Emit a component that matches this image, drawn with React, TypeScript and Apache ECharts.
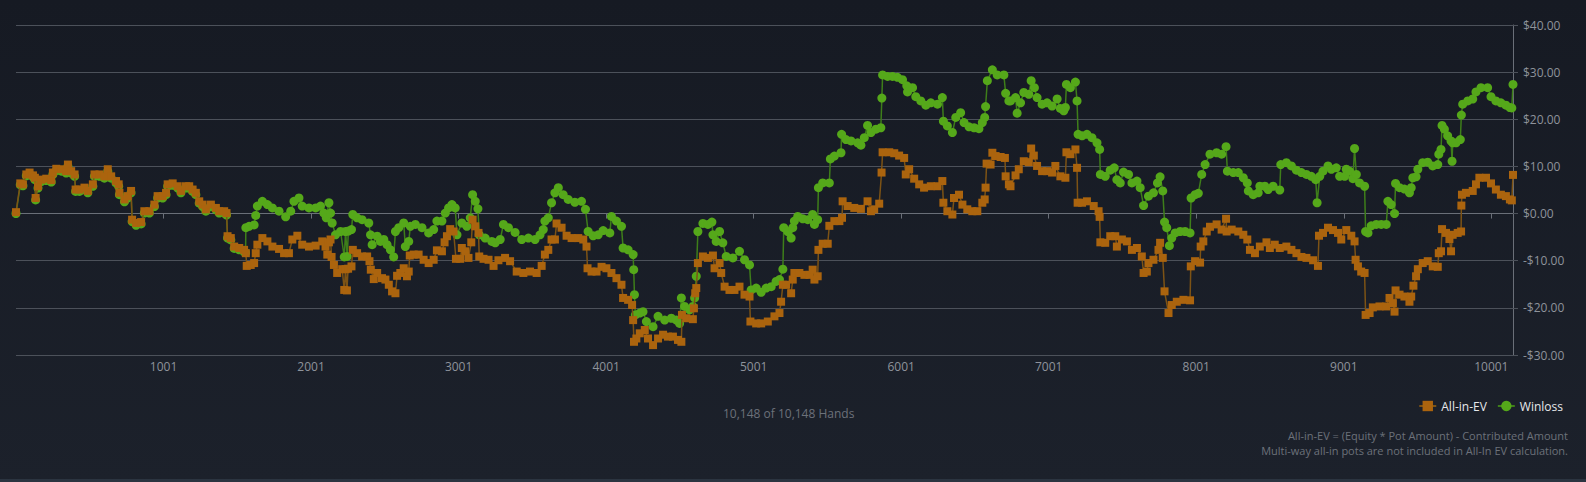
import React, { useEffect, useRef } from "react";
import * as echarts from "echarts";

const seriesNames = ["All-in-EV", "Winloss"];
const xTickValues = [1001, 2001, 3001, 4001, 5001, 6001, 7001, 8001, 9001, 10001];
const yTickMin = -30;
const yTickMax = 40;
const yTickStep = 10;
const handsShown = "10,148 of 10,148 Hands";
const footnotes = [
  "All-in-EV = (Equity * Pot Amount) - Contributed Amount",
  "Multi-way all-in pots are not included in All-In EV calculation.",
];

// [hand, $] for All-in-EV
const allInEv: [number, number][] = [
  [1,0.3],[30,6.4],[48,6.2],[71,8.3],[93,8.7],[116,8.1],[129,7.6],[134,3.3],[150,5.8],[172,7.2],[206,7.4],[240,7.1],[251,8.7],[274,9.5],[308,9.4],[341,9.0],[353,10.4],[375,9.0],[398,8.3],[405,5.1],[431,5.1],[465,5.5],[488,4.8],[522,6.2],[533,8.3],[567,8.3],[600,7.9],[623,9.4],[646,7.9],[679,6.9],[697,6.2],[702,4.4],[736,3.0],[758,3.7],[781,4.8],[788,-1.3],[815,-2.0],[849,-1.8],[871,0.5],[905,0.5],[939,1.9],[961,3.7],[995,3.7],[1018,4.4],[1029,6.2],[1063,6.4],[1097,5.8],[1119,4.8],[1153,5.8],[1175,5.8],[1198,5.1],[1220,4.4],[1243,2.6],[1266,1.9],[1288,0.9],[1322,1.9],[1356,1.2],[1378,0.5],[1412,0.5],[1428,0.1],[1435,-4.8],[1457,-5.2],[1480,-7.0],[1514,-7.3],[1547,-7.7],[1559,-8.4],[1565,-11.1],[1592,-10.9],[1615,-10.5],[1626,-8.4],[1637,-6.6],[1671,-5.2],[1705,-5.9],[1739,-7.0],[1784,-7.5],[1818,-8.4],[1851,-8.4],[1874,-5.5],[1908,-4.7],[1941,-6.6],[1987,-7.0],[2032,-6.8],[2077,-5.9],[2099,-7.0],[2111,-8.7],[2122,-6.1],[2133,-5.5],[2140,-9.2],[2156,-10.9],[2178,-12.6],[2212,-11.8],[2226,-16.2],[2235,-11.8],[2244,-16.3],[2252,-11.7],[2275,-11.2],[2284,-7.7],[2313,-8.4],[2347,-9.1],[2381,-9.1],[2397,-10.1],[2406,-11.9],[2426,-13.9],[2449,-12.6],[2482,-13.7],[2505,-14.0],[2528,-15.1],[2550,-16.5],[2573,-16.9],[2584,-13.2],[2606,-12.6],[2629,-11.6],[2651,-13.3],[2663,-12.3],[2670,-8.9],[2697,-8.7],[2730,-8.7],[2764,-9.8],[2798,-10.5],[2832,-9.8],[2854,-7.8],[2888,-8.0],[2906,-6.1],[2922,-4.8],[2944,-3.3],[2967,-3.8],[2983,-9.6],[3012,-9.6],[3023,-7.3],[3046,-8.0],[3068,-9.4],[3087,-6.1],[3096,-1.3],[3114,-2.7],[3136,-4.1],[3141,-9.1],[3170,-9.6],[3204,-9.8],[3238,-11.1],[3271,-9.9],[3316,-9.4],[3350,-10.1],[3395,-12.3],[3440,-12.6],[3485,-12.3],[3530,-12.6],[3564,-11.1],[3586,-8.7],[3609,-7.7],[3631,-5.5],[3654,-5.5],[3665,-2.1],[3699,-3.0],[3733,-4.7],[3767,-5.2],[3812,-5.2],[3846,-5.5],[3868,-7.0],[3875,-11.6],[3902,-12.3],[3936,-12.3],[3970,-11.3],[4003,-11.6],[4037,-12.6],[4071,-13.7],[4105,-15.1],[4116,-17.9],[4150,-18.3],[4177,-19.4],[4184,-22.6],[4190,-27.2],[4206,-26.5],[4229,-25.4],[4263,-24.7],[4285,-26.5],[4319,-27.9],[4353,-26.5],[4387,-25.7],[4420,-26.1],[4454,-26.1],[4488,-26.8],[4511,-27.2],[4515,-21.5],[4544,-22.2],[4589,-22.4],[4596,-20.1],[4605,-16.9],[4612,-15.8],[4623,-10.5],[4657,-9.1],[4691,-9.4],[4725,-8.9],[4736,-11.6],[4770,-10.5],[4781,-12.6],[4804,-15.5],[4837,-16.2],[4871,-16.2],[4905,-15.5],[4939,-17.2],[4973,-17.6],[4979,-22.9],[5018,-23.3],[5052,-23.3],[5097,-22.9],[5142,-21.8],[5176,-21.1],[5187,-18.7],[5199,-15.1],[5221,-15.1],[5255,-16.9],[5266,-14.0],[5277,-12.6],[5311,-12.6],[5345,-13.0],[5379,-13.0],[5401,-11.9],[5413,-14.0],[5435,-13.3],[5440,-7.7],[5469,-6.4],[5503,-6.4],[5514,-2.6],[5548,-1.6],[5582,-1.6],[5600,-0.9],[5604,2.6],[5638,1.6],[5683,1.2],[5728,1.0],[5773,2.6],[5796,0.5],[5818,0.9],[5852,2.1],[5868,8.7],[5875,13.0],[5920,13.0],[5954,12.8],[5987,12.3],[6021,11.8],[6032,8.3],[6055,9.4],[6089,7.4],[6123,6.2],[6156,5.5],[6202,5.8],[6247,5.8],[6280,6.9],[6287,2.3],[6314,0.5],[6348,-0.2],[6359,3.3],[6393,4.0],[6416,1.9],[6449,0.9],[6483,0.5],[6517,0.5],[6551,2.3],[6567,3.0],[6573,5.5],[6580,10.6],[6607,10.4],[6619,12.9],[6641,12.2],[6675,12.0],[6704,11.8],[6709,7.9],[6731,6.2],[6742,5.8],[6776,8.1],[6798,9.4],[6832,11.1],[6866,10.9],[6882,13.8],[6900,12.3],[6922,10.1],[6956,9.0],[6990,9.0],[7024,8.7],[7046,10.1],[7080,7.9],[7114,7.6],[7121,13.0],[7148,12.6],[7182,13.6],[7193,9.7],[7197,2.3],[7227,2.3],[7260,2.6],[7306,1.6],[7339,0.5],[7346,-0.7],[7351,-6.1],[7384,-6.2],[7418,-4.8],[7452,-4.8],[7463,-7.0],[7497,-5.5],[7531,-5.9],[7565,-7.7],[7599,-7.3],[7632,-9.1],[7644,-12.6],[7666,-12.3],[7677,-10.5],[7711,-9.8],[7745,-7.7],[7756,-6.2],[7774,-9.4],[7786,-16.5],[7813,-21.1],[7835,-19.4],[7869,-18.7],[7914,-18.3],[7959,-18.4],[7964,-11.2],[7993,-10.1],[8027,-10.4],[8031,-7.0],[8049,-5.9],[8072,-3.8],[8094,-2.8],[8139,-2.3],[8173,-3.4],[8203,-1.1],[8207,-3.8],[8241,-3.4],[8286,-3.8],[8320,-4.5],[8347,-5.5],[8365,-7.7],[8399,-8.4],[8432,-7.0],[8477,-6.1],[8500,-7.3],[8533,-6.6],[8567,-7.3],[8612,-7.0],[8646,-7.7],[8680,-8.4],[8714,-9.2],[8748,-9.4],[8793,-9.9],[8826,-11.1],[8833,-4.7],[8860,-4.1],[8894,-3.0],[8928,-3.5],[8962,-4.1],[8984,-5.5],[9018,-3.5],[9052,-4.7],[9074,-5.9],[9081,-9.8],[9097,-11.2],[9119,-12.3],[9142,-12.6],[9149,-21.5],[9176,-21.1],[9198,-19.9],[9243,-19.7],[9289,-19.7],[9311,-17.9],[9334,-19.0],[9345,-20.8],[9352,-16.3],[9379,-17.2],[9412,-17.6],[9446,-18.7],[9458,-17.6],[9473,-15.3],[9491,-13.3],[9503,-11.8],[9536,-10.5],[9570,-10.1],[9604,-11.2],[9638,-11.3],[9645,-8.4],[9660,-8.0],[9667,-3.3],[9694,-4.1],[9717,-5.4],[9728,-8.0],[9739,-4.5],[9773,-4.1],[9796,-3.8],[9798,1.7],[9802,4.0],[9829,4.4],[9875,4.8],[9897,6.2],[9920,7.6],[9965,7.6],[9999,6.4],[10032,5.1],[10066,4.0],[10100,3.7],[10127,3.0],[10140,2.8],[10148,8.2],
];

// [hand, $] for Winloss
const winloss: [number, number][] = [
  [1,0.0],[30,6.1],[48,5.9],[71,8.0],[93,8.4],[116,7.8],[129,7.2],[134,2.9],[150,5.4],[172,6.8],[206,7.0],[240,6.7],[251,8.3],[274,9.1],[308,9.0],[341,8.6],[353,10.0],[375,8.6],[398,7.9],[405,4.7],[431,4.7],[465,5.1],[488,4.4],[522,5.8],[533,7.9],[567,7.9],[600,7.5],[623,9.0],[646,7.5],[679,6.5],[697,5.8],[702,4.0],[736,2.5],[758,3.3],[781,4.4],[788,-1.7],[815,-2.5],[849,-2.2],[871,0.1],[905,0.1],[939,1.5],[961,3.3],[995,3.3],[1018,4.0],[1029,5.8],[1063,6.0],[1097,5.4],[1119,4.4],[1153,5.4],[1175,5.4],[1198,4.7],[1220,4.0],[1243,2.2],[1266,1.5],[1288,0.5],[1322,1.5],[1356,0.8],[1378,0.1],[1412,0.1],[1428,-0.3],[1435,-5.2],[1457,-5.6],[1480,-7.4],[1514,-7.7],[1547,-8.1],[1557,-8.3],[1559,-3.0],[1581,-2.7],[1615,-2.4],[1626,-0.4],[1637,1.6],[1671,2.6],[1705,1.9],[1739,1.2],[1784,0.5],[1829,-0.7],[1863,0.5],[1885,2.6],[1919,3.3],[1941,1.6],[1987,1.2],[2032,1.2],[2065,1.6],[2088,0.1],[2104,-0.9],[2122,2.3],[2133,0.1],[2144,-2.0],[2167,-4.5],[2201,-3.8],[2226,-9.2],[2235,-3.8],[2246,-9.1],[2254,-3.7],[2275,-3.4],[2284,-0.2],[2313,-0.9],[2347,-1.3],[2392,-2.0],[2404,-4.5],[2415,-6.6],[2449,-4.8],[2471,-5.9],[2494,-5.5],[2516,-6.6],[2539,-7.7],[2561,-9.2],[2573,-3.8],[2595,-3.0],[2629,-2.0],[2640,-7.0],[2663,-5.9],[2674,-2.7],[2708,-2.3],[2753,-3.0],[2798,-4.1],[2832,-3.4],[2854,-1.6],[2888,-1.6],[2911,0.1],[2933,1.2],[2956,1.9],[2978,1.2],[2990,-4.5],[3023,-2.0],[3057,-2.7],[3080,-0.9],[3096,4.0],[3114,2.6],[3132,1.0],[3141,-4.5],[3181,-5.2],[3226,-5.9],[3249,-6.2],[3283,-5.5],[3305,-2.3],[3339,-3.0],[3384,-4.0],[3429,-5.5],[3474,-5.2],[3519,-5.5],[3553,-4.5],[3575,-3.4],[3586,-1.6],[3609,-0.9],[3631,2.3],[3654,4.4],[3677,5.5],[3710,4.0],[3744,3.0],[3789,2.4],[3834,2.6],[3861,0.9],[3879,-3.8],[3913,-4.7],[3947,-4.5],[3981,-3.6],[4026,-4.1],[4037,-0.6],[4071,-1.6],[4105,-2.7],[4116,-7.3],[4150,-7.7],[4184,-8.7],[4188,-11.9],[4193,-17.2],[4199,-21.5],[4229,-21.1],[4251,-20.8],[4274,-22.9],[4319,-24.0],[4353,-21.8],[4398,-22.6],[4443,-22.2],[4477,-22.6],[4499,-23.3],[4511,-17.9],[4533,-19.7],[4567,-20.4],[4589,-19.7],[4601,-17.9],[4612,-13.3],[4623,-3.8],[4657,-2.1],[4691,-2.3],[4718,-1.8],[4725,-4.5],[4747,-5.9],[4770,-3.8],[4792,-6.2],[4815,-9.1],[4860,-9.4],[4905,-8.0],[4939,-9.8],[4973,-10.9],[4984,-16.2],[5018,-15.8],[5052,-16.7],[5086,-15.8],[5120,-15.5],[5153,-14.4],[5176,-14.0],[5199,-11.8],[5205,-3.0],[5232,-3.8],[5255,-5.2],[5266,-3.0],[5277,-1.6],[5300,-0.6],[5334,-1.1],[5368,-1.3],[5401,-0.2],[5413,-2.3],[5435,-1.3],[5440,5.5],[5469,6.5],[5514,6.5],[5521,11.6],[5548,12.2],[5593,12.9],[5597,16.8],[5627,15.7],[5661,15.4],[5706,15.0],[5728,14.5],[5751,16.1],[5773,18.7],[5796,17.2],[5830,17.9],[5863,18.2],[5870,24.5],[5875,29.4],[5909,29.1],[5942,29.1],[5976,28.9],[6010,28.4],[6039,27.1],[6044,25.8],[6078,26.7],[6100,24.8],[6134,23.9],[6168,23.0],[6202,23.5],[6247,23.2],[6280,24.6],[6287,19.6],[6314,18.6],[6348,17.2],[6371,20.4],[6404,21.4],[6427,19.3],[6461,18.4],[6495,18.2],[6528,18.0],[6551,19.3],[6567,20.4],[6573,22.7],[6585,28.2],[6619,30.5],[6652,29.4],[6697,29.4],[6709,25.5],[6731,23.9],[6742,23.9],[6776,24.6],[6787,21.3],[6810,23.5],[6832,25.7],[6866,25.3],[6882,28.2],[6904,26.7],[6922,24.6],[6956,23.2],[6990,23.5],[7024,22.8],[7058,24.3],[7080,22.3],[7103,21.8],[7114,22.5],[7121,27.4],[7148,26.7],[7182,27.9],[7193,23.9],[7200,16.8],[7227,16.5],[7260,16.8],[7294,16.1],[7328,15.0],[7346,13.6],[7351,8.3],[7384,7.9],[7418,9.2],[7445,9.7],[7463,7.2],[7486,6.5],[7508,8.8],[7542,8.3],[7565,6.5],[7599,6.9],[7621,5.5],[7644,1.7],[7677,3.7],[7711,4.4],[7738,6.5],[7756,7.8],[7774,4.8],[7786,-1.8],[7801,-3.0],[7819,-6.8],[7835,-5.2],[7858,-4.1],[7892,-3.8],[7925,-3.8],[7959,-4.1],[7966,3.3],[7993,4.0],[8015,4.3],[8038,8.3],[8061,10.4],[8094,12.6],[8139,12.9],[8173,12.6],[8203,14.2],[8212,9.0],[8252,8.7],[8286,8.7],[8320,7.6],[8347,6.5],[8354,4.8],[8387,4.0],[8421,4.4],[8432,5.8],[8466,5.8],[8488,5.1],[8522,5.8],[8567,5.0],[8574,10.4],[8612,10.8],[8646,10.1],[8680,9.2],[8714,8.7],[8748,8.3],[8781,7.9],[8811,7.2],[8820,2.3],[8838,7.9],[8860,9.0],[8894,10.1],[8917,9.4],[8950,9.7],[8973,7.9],[9007,7.9],[9018,9.4],[9040,9.0],[9063,7.4],[9074,13.8],[9086,8.3],[9108,6.5],[9142,5.8],[9149,-3.8],[9165,-4.1],[9187,-2.6],[9221,-2.3],[9255,-2.3],[9289,-2.3],[9300,2.6],[9322,1.9],[9345,0.0],[9352,6.4],[9379,5.5],[9412,5.2],[9446,4.4],[9458,5.5],[9469,7.6],[9491,7.8],[9503,9.4],[9536,10.8],[9570,10.9],[9604,10.1],[9638,10.4],[9645,12.6],[9660,13.6],[9667,18.7],[9683,17.9],[9705,16.5],[9728,15.4],[9735,11.1],[9739,15.0],[9762,15.0],[9791,15.7],[9798,20.9],[9807,23.2],[9841,23.9],[9875,24.3],[9897,25.8],[9931,26.7],[9976,26.7],[9999,24.8],[10032,23.9],[10066,23.5],[10100,23.0],[10127,22.5],[10140,22.4],[10148,27.4],
];

const EV_COLOR = "#ab640e";
const EV_LINE = "#7d5315";
const WL_COLOR = "#55a81a";
const WL_LINE = "#3e7e1a";
const AXIS_TEXT = "#8e939b";
const NOTE_TEXT = "#6c717a";
const FONT = "'Open Sans', 'Noto Sans', sans-serif";

function money(v: number): string {
  const s = "$" + Math.abs(v).toFixed(2);
  return v < 0 ? "-" + s : s;
}

export default function App() {
  const ref = useRef<HTMLDivElement>(null);

  useEffect(() => {
    document.body.style.margin = "0";
    document.body.style.background = "#1a1f29";
    if (!ref.current) return;
    const chart = echarts.init(ref.current, undefined, { renderer: "svg" });
    chart.setOption({
      animation: false,
      backgroundColor: "transparent",
      textStyle: { fontFamily: FONT },
      grid: { left: 16, right: 73, top: 25, bottom: 127, containLabel: false },
      legend: {
        data: seriesNames,
        right: 18,
        top: 395,
        itemWidth: 17,
        itemHeight: 13,
        itemGap: 10,
        textStyle: { color: "#e6e8eb", fontSize: 12, fontFamily: FONT },
        inactiveColor: "#555",
      },
      xAxis: {
        type: "value",
        min: 1,
        max: 10148,
        splitLine: { show: false },
        axisLine: { show: true, lineStyle: { color: "#6a6f78", width: 1 } },
        axisTick: { show: true, length: 5, customValues: xTickValues, lineStyle: { color: "#6a6f78" } },
        axisLabel: {
          customValues: xTickValues,
          color: AXIS_TEXT,
          fontSize: 12,
          margin: 5,
          fontFamily: FONT,
          formatter: (v: number) => String(v),
        },
      },
      yAxis: {
        type: "value",
        position: "right",
        min: yTickMin,
        max: yTickMax,
        interval: yTickStep,
        axisLine: { show: true, lineStyle: { color: "#6a6f78", width: 1 } },
        axisTick: { show: true, length: 5, lineStyle: { color: "#4c515a" } },
        splitLine: { show: true, lineStyle: { color: "#4c515a", width: 1 } },
        axisLabel: {
          color: AXIS_TEXT,
          fontSize: 12,
          margin: 10,
          fontFamily: FONT,
          formatter: (v: number) => money(v),
        },
      },
      series: [
        {
          name: seriesNames[1],
          type: "line",
          data: winloss,
          symbol: "circle",
          symbolSize: 9,
          showAllSymbol: true,
          itemStyle: { color: WL_COLOR },
          lineStyle: { color: WL_LINE, width: 1.5 },
          z: 2,
        },
        {
          name: seriesNames[0],
          type: "line",
          data: allInEv,
          symbol: "rect",
          symbolSize: 8,
          showAllSymbol: true,
          itemStyle: { color: EV_COLOR },
          lineStyle: { color: EV_LINE, width: 1.5 },
          z: 3,
        },
      ],
      graphic: [
        {
          type: "text",
          left: 723,
          top: 407,
          style: { text: handsShown, fill: NOTE_TEXT, fontSize: 12, fontFamily: FONT },
        },
        {
          type: "text",
          right: 18,
          top: 430,
          style: { text: footnotes[0], fill: NOTE_TEXT, fontSize: 11, fontFamily: FONT, align: "right" },
        },
        {
          type: "text",
          right: 18,
          top: 445,
          style: { text: footnotes[1], fill: NOTE_TEXT, fontSize: 11, fontFamily: FONT, align: "right" },
        },
        {
          type: "rect",
          left: 0,
          top: 479,
          shape: { width: 1586, height: 3 },
          style: { fill: "#2b3440" },
        },
      ],
    });
    return () => chart.dispose();
  }, []);

  return (
    <div
      style={{
        width: 1586,
        height: 482,
        background: "linear-gradient(180deg, #161a23 0%, #1c212b 100%)",
      }}
    >
      <div ref={ref} style={{ width: 1586, height: 482 }} />
    </div>
  );
}
